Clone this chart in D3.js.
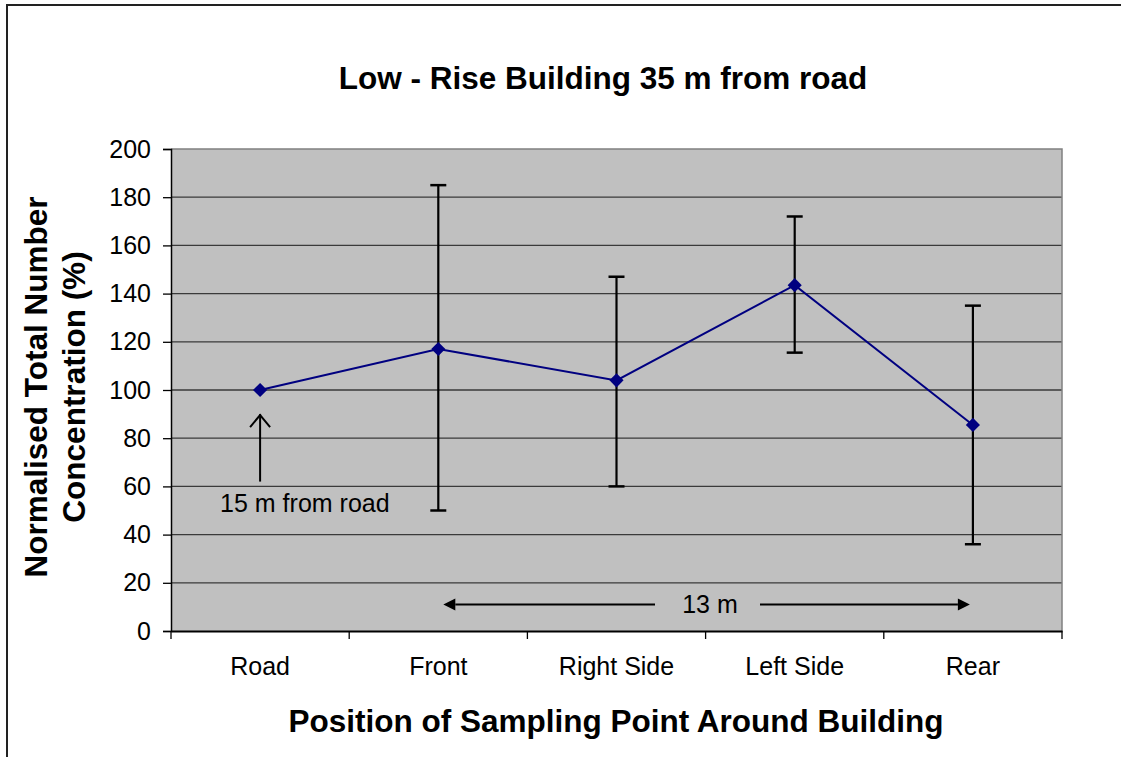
<!DOCTYPE html>
<html><head><meta charset="utf-8">
<script src="https://cdn.jsdelivr.net/npm/d3@7/dist/d3.min.js"></script>
<style>body{margin:0;background:#fff}svg{display:block}text{font-family:"Liberation Sans",Arial,sans-serif}</style>
</head><body>
<svg id="c" width="1121" height="757"></svg>
<script>
const categories = ["Road","Front","Right Side","Left Side","Rear"];
const values = [100, 117, 104, 143.5, 85.5];
const errHigh = [null, 185, 147, 172, 135];
const errLow = [null, 50, 60, 115.5, 36];
const yTicks = [0,20,40,60,80,100,120,140,160,180,200];
const title = "Low - Rise Building 35 m from road";
const xTitle = "Position of Sampling Point Around Building";
const yTitle = ["Normalised Total Number","Concentration (%)"];

const svg = d3.select("#c");
const L=171, R=1062, T=149, B=631;
const x = d3.scaleBand().domain(categories).range([L,R]);
const y = d3.scaleLinear().domain([0,200]).range([B,T]);
const cx = c => x(c)+x.bandwidth()/2;
const FONT = "Liberation Sans, Arial, sans-serif";

// outer frame
svg.append("rect").attr("x",7).attr("y",5).attr("width",1130).attr("height",770)
  .attr("fill","none").attr("stroke","#222").attr("stroke-width",2);

// plot background
svg.append("rect").attr("x",L).attr("y",T).attr("width",R-L).attr("height",B-T).attr("fill","#c0c0c0");

// gridlines
svg.append("g").selectAll("line").data(yTicks.filter(d=>d>0&&d<200)).join("line")
  .attr("x1",L).attr("x2",R).attr("y1",d=>y(d)).attr("y2",d=>y(d))
  .attr("stroke","#3a3a3a").attr("stroke-width",1.3);
svg.append("path").attr("d",`M${L},${T}H${R}V${B}`).attr("fill","none").attr("stroke","#808080").attr("stroke-width",1.5);

// y axis
const ya = svg.append("g").attr("transform",`translate(${L},0)`)
  .call(d3.axisLeft(y).tickValues(yTicks).tickSize(8).tickPadding(12));
ya.select(".domain").attr("stroke","#000").attr("stroke-width",1.5);
ya.selectAll(".tick line").attr("stroke","#000").attr("stroke-width",1.3);
ya.selectAll("text").attr("font-size",25).attr("fill","#000").style("font-family",FONT);

// x axis
const xa = svg.append("g").attr("transform",`translate(0,${B})`)
  .call(d3.axisBottom(x).tickSize(0).tickPadding(26));
xa.select(".domain").attr("stroke","#000").attr("stroke-width",1.8);
xa.selectAll("text").attr("font-size",25).attr("fill","#000").style("font-family",FONT);
svg.append("g").selectAll("line").data(d3.range(categories.length+1)).join("line")
  .attr("x1",i=>L+i*x.step()).attr("x2",i=>L+i*x.step())
  .attr("y1",B).attr("y2",B+8).attr("stroke","#000").attr("stroke-width",1.3);

// error bars
const eb = categories.map((c,i)=>({c,hi:errHigh[i],lo:errLow[i]})).filter(d=>d.hi!=null);
const ge = svg.append("g").attr("stroke","#000").attr("stroke-width",2.2);
ge.selectAll(".v").data(eb).join("line").attr("x1",d=>cx(d.c)).attr("x2",d=>cx(d.c))
  .attr("y1",d=>y(d.hi)).attr("y2",d=>y(d.lo));
ge.selectAll(".h").data(eb).join("line").attr("x1",d=>cx(d.c)-8).attr("x2",d=>cx(d.c)+8)
  .attr("y1",d=>y(d.hi)).attr("y2",d=>y(d.hi)).attr("stroke-width",2.5);
ge.selectAll(".l").data(eb).join("line").attr("x1",d=>cx(d.c)-8).attr("x2",d=>cx(d.c)+8)
  .attr("y1",d=>y(d.lo)).attr("y2",d=>y(d.lo)).attr("stroke-width",2.5);

// series line
const pts = categories.map((c,i)=>[cx(c),y(values[i])]);
svg.append("path").attr("d",d3.line()(pts)).attr("fill","none").attr("stroke","#000080").attr("stroke-width",2);
svg.append("g").selectAll("path").data(pts).join("path")
  .attr("d",d3.symbol(d3.symbolSquare, 100)())
  .attr("transform",d=>`translate(${d[0]},${d[1]}) rotate(45)`).attr("fill","#000080");

// annotation: 15 m from road
const ax = cx("Road");
svg.append("line").attr("x1",ax).attr("x2",ax).attr("y1",y(62)).attr("y2",y(90)).attr("stroke","#000").attr("stroke-width",2);
svg.append("path").attr("d",`M${ax-10},${y(90)+13}L${ax},${y(90)+1}L${ax+10},${y(90)+13}`).attr("fill","none").attr("stroke","#000").attr("stroke-width",2);
svg.append("text").attr("x",ax-40).attr("y",y(49.5)).attr("font-size",25).text("15 m from road");

// annotation: 13 m
const ay = y(11);
const x0 = cx("Front")+5, x1 = cx("Rear")-3;
svg.append("line").attr("x1",x0+12).attr("x2",655).attr("y1",ay).attr("y2",ay).attr("stroke","#000").attr("stroke-width",2);
svg.append("path").attr("d",`M${x0},${ay}L${x0+12},${ay-6}L${x0+12},${ay+6}Z`).attr("fill","#000");
svg.append("line").attr("x1",760).attr("x2",x1-12).attr("y1",ay).attr("y2",ay).attr("stroke","#000").attr("stroke-width",2);
svg.append("path").attr("d",`M${x1},${ay}L${x1-12},${ay-6}L${x1-12},${ay+6}Z`).attr("fill","#000");
svg.append("text").attr("x",710).attr("y",ay+9).attr("text-anchor","middle").attr("font-size",25).text("13 m");

// titles
svg.append("text").attr("x",603).attr("y",89).attr("text-anchor","middle").attr("font-size",31.5).attr("font-weight","bold").text(title);
svg.append("text").attr("x",616).attr("y",732).attr("text-anchor","middle").attr("font-size",31.5).attr("font-weight","bold").text(xTitle);
yTitle.forEach((t,i)=>{
  svg.append("text").attr("transform",`translate(${47+i*38},387) rotate(-90)`).attr("text-anchor","middle")
    .attr("font-size",31.5).attr("font-weight","bold").text(t);
});
</script>
</body></html>
